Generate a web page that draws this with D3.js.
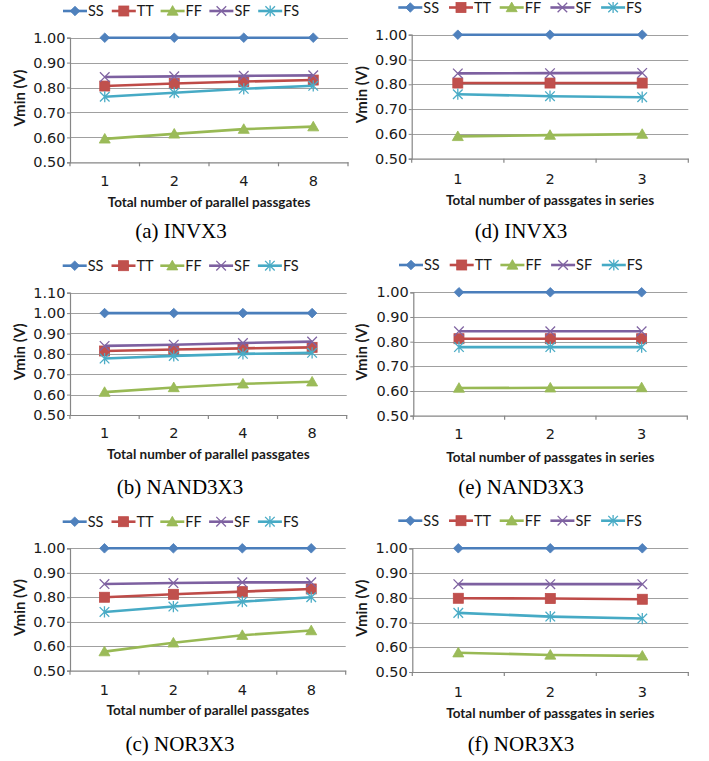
<!DOCTYPE html>
<html><head><meta charset="utf-8">
<script src="https://cdn.jsdelivr.net/npm/d3@7"></script>
<style>body{margin:0;background:#fff}svg{display:block}</style>
</head><body><svg id="c" width="709" height="761"></svg>
<script>
// ---------- data ----------
const seriesNames = ["SS","TT","FF","SF","FS"];
const parallelCats = ["1","2","4","8"];
const seriesCats = ["1","2","3"];
const yTicksStd = [0.50,0.60,0.70,0.80,0.90,1.00];
const yTicksNand = [0.50,0.60,0.70,0.80,0.90,1.00,1.10];
const xTitleParallel = "Total number of parallel passgates";
const xTitleSeries = "Total number of passgates in series";
const yTitle = "Vmin (V)";
const captions = ["(a) INVX3","(d) INVX3","(b) NAND3X3","(e) NAND3X3","(c) NOR3X3","(f) NOR3X3"];

// rows follow seriesNames order: SS, TT, FF, SF, FS
const invParallel = [
  [1.00,1.00,1.00,1.00],
  [0.806,0.816,0.824,0.830],
  [0.594,0.614,0.633,0.643],
  [0.842,0.845,0.847,0.849],
  [0.763,0.779,0.795,0.807]
];
const invSeries = [
  [1.00,1.00,1.00],
  [0.805,0.805,0.805],
  [0.590,0.595,0.599],
  [0.844,0.845,0.846],
  [0.760,0.752,0.748]
];
const nandParallel = [
  [1.00,1.00,1.00,1.00],
  [0.814,0.821,0.827,0.832],
  [0.612,0.635,0.653,0.663],
  [0.839,0.845,0.853,0.860],
  [0.777,0.790,0.800,0.805]
];
const nandSeries = [
  [1.00,1.00,1.00],
  [0.812,0.812,0.812],
  [0.612,0.613,0.614],
  [0.842,0.842,0.842],
  [0.778,0.778,0.778]
];
const norParallel = [
  [1.00,1.00,1.00,1.00],
  [0.800,0.812,0.823,0.834],
  [0.578,0.614,0.645,0.664],
  [0.854,0.858,0.861,0.861],
  [0.740,0.762,0.782,0.800]
];
const norSeries = [
  [1.00,1.00,1.00],
  [0.798,0.797,0.794],
  [0.578,0.569,0.565],
  [0.855,0.855,0.855],
  [0.739,0.724,0.716]
];

// ---------- styles ----------
const lineColors = ["#4A7EBB","#BE4B48","#98B954","#7D60A0","#46AAC5"];
const markColors = ["#4F81BD","#C0504D","#9BBB59","#8064A2","#4BACC6"];
const markers = ["diamond","square","triangle","x","star"];
const tickFont = "'DejaVu Sans', sans-serif";
const textFont = "Lato, 'Open Sans', sans-serif";

// ---------- layout ----------
const panels = [
  {cats:parallelCats, vals:invParallel, ticks:yTicksStd, xTitle:xTitleParallel, cap:captions[0],
   L:70, R:348, T:37.7, B:162.3, legY:11, legX:63, legStep:48.8, tickY:181, titleY:202, yTitleX:20, capX:181, capY:238},
  {cats:seriesCats, vals:invSeries, ticks:yTicksStd, xTitle:xTitleSeries, cap:captions[1],
   L:411.7, R:688.3, T:34.7, B:158.7, legY:7.5, legX:398.3, legStep:50.7, tickY:179, titleY:200, yTitleX:362, capX:521, capY:238},
  {cats:parallelCats, vals:nandParallel, ticks:yTicksNand, xTitle:xTitleParallel, cap:captions[2],
   L:70, R:346.7, T:292.7, B:415, legY:265.7, legX:62.7, legStep:48.8, tickY:433, titleY:454, yTitleX:20, capX:180, capY:494},
  {cats:seriesCats, vals:nandSeries, ticks:yTicksStd, xTitle:xTitleSeries, cap:captions[3],
   L:413.3, R:687.3, T:292.3, B:415.7, legY:265, legX:399, legStep:50.7, tickY:434, titleY:456.7, yTitleX:362, capX:521, capY:494},
  {cats:parallelCats, vals:norParallel, ticks:yTicksStd, xTitle:xTitleParallel, cap:captions[4],
   L:70, R:345.7, T:548.3, B:670.7, legY:521.7, legX:62.7, legStep:48.8, tickY:690, titleY:710, yTitleX:20, capX:180, capY:751},
  {cats:seriesCats, vals:norSeries, ticks:yTicksStd, xTitle:xTitleSeries, cap:captions[5],
   L:412.3, R:688.3, T:548.3, B:672, legY:520.7, legX:398.3, legStep:50.7, tickY:691.7, titleY:713.3, yTitleX:362, capX:521, capY:751}
];

const svg = d3.select("#c");

function drawMarker(g, type, i, x, y) {
  const c = markColors[i], lc = lineColors[i];
  if (type === "diamond") {
    const r = 4.8;
    g.append("path").attr("d", `M${x},${y-r}L${x+r},${y}L${x},${y+r}L${x-r},${y}Z`)
      .attr("fill", c).attr("stroke", lc).attr("stroke-width", 0.8);
  } else if (type === "square") {
    const s = 10;
    g.append("rect").attr("x", x-s/2).attr("y", y-s/2).attr("width", s).attr("height", s)
      .attr("fill", c).attr("stroke", lc).attr("stroke-width", 0.8);
  } else if (type === "triangle") {
    g.append("path").attr("d", `M${x},${y-5.4}L${x+5.5},${y+4.2}L${x-5.5},${y+4.2}Z`)
      .attr("fill", c).attr("stroke", lc).attr("stroke-width", 0.8);
  } else if (type === "x") {
    const r = 4.8;
    g.append("path").attr("d", `M${x-r},${y-r}L${x+r},${y+r}M${x-r},${y+r}L${x+r},${y-r}`)
      .attr("stroke", c).attr("stroke-width", 1.3).attr("fill", "none");
  } else if (type === "star") {
    const r = 4.8;
    g.append("path").attr("d", `M${x-r},${y-r}L${x+r},${y+r}M${x-r},${y+r}L${x+r},${y-r}M${x},${y-r-0.8}L${x},${y+r+0.8}`)
      .attr("stroke", c).attr("stroke-width", 1.3).attr("fill", "none");
  }
}

panels.forEach(p => {
  const g = svg.append("g");
  const yMax = p.ticks[p.ticks.length-1];
  const x = d3.scaleBand().domain(p.cats).range([p.L, p.R]).paddingInner(0).paddingOuter(0);
  const y = d3.scaleLinear().domain([0.5, yMax]).range([p.B, p.T]);

  // gridlines
  g.append("g").selectAll("line").data(p.ticks.slice(1)).join("line")
    .attr("x1", p.L).attr("x2", p.R)
    .attr("y1", d => Math.round(y(d))+0.5).attr("y2", d => Math.round(y(d))+0.5)
    .attr("stroke", "#a0a0a0").attr("stroke-width", 1.2);

  // y axis
  const ya = g.append("g").attr("transform", `translate(${p.L},0)`)
    .call(d3.axisLeft(y).tickValues(p.ticks).tickFormat(d3.format(".2f")).tickSize(3).tickPadding(1.5));
  ya.select(".domain").attr("stroke", "#868686").attr("stroke-width", 1.2);
  ya.selectAll(".tick line").attr("stroke", "#868686");
  ya.selectAll("text").attr("font-family", tickFont).attr("font-size", 14.5).attr("fill", "#1a1a1a");

  // x axis
  const xa = g.append("g").attr("transform", `translate(0,${p.B})`)
    .call(d3.axisBottom(x).tickSize(0).tickPadding(0));
  xa.select(".domain").attr("stroke", "#868686").attr("stroke-width", 1.2);
  xa.selectAll("text").attr("font-family", tickFont).attr("font-size", 14.5).attr("fill", "#1a1a1a")
    .attr("y", p.tickY - p.B).attr("dy", "0.36em");
  const bounds = p.cats.map(c => x(c)).concat([p.R]);
  g.append("g").selectAll("line").data(bounds).join("line")
    .attr("x1", d => d).attr("x2", d => d).attr("y1", p.B).attr("y2", p.B + 4)
    .attr("stroke", "#868686").attr("stroke-width", 1.2);

  // axis titles
  g.append("text").attr("x", (p.L+p.R)/2).attr("y", p.titleY).attr("dy", "0.36em")
    .attr("text-anchor", "middle").attr("font-family", textFont).attr("font-weight", "bold")
    .attr("font-size", 13.5).attr("fill", "#1a1a1a").text(p.xTitle);
  g.append("text").attr("transform", `translate(${p.yTitleX},${(p.T+p.B)/2 - 2}) rotate(-90)`)
    .attr("dy", "0.36em").attr("text-anchor", "middle").attr("font-family", textFont)
    .attr("font-weight", "bold").attr("font-size", 15).attr("fill", "#1a1a1a").text(yTitle);

  // series
  seriesNames.forEach((name, i) => {
    const vals = p.vals[i];
    const pts = p.cats.map((c, j) => [x(c) + x.bandwidth()/2, y(vals[j])]);
    g.append("path").attr("d", d3.line()(pts)).attr("fill", "none")
      .attr("stroke", lineColors[i]).attr("stroke-width", 2.6).attr("stroke-linejoin", "round");
    pts.forEach(pt => drawMarker(g, markers[i], i, pt[0], pt[1]));
  });

  // legend
  seriesNames.forEach((name, i) => {
    const x0 = p.legX + i * p.legStep;
    g.append("line").attr("x1", x0).attr("x2", x0 + 24).attr("y1", p.legY).attr("y2", p.legY)
      .attr("stroke", lineColors[i]).attr("stroke-width", 2.6);
    drawMarker(g, markers[i], i, x0 + 12, p.legY);
    g.append("text").attr("x", x0 + 25).attr("y", p.legY).attr("dy", "0.36em")
      .attr("font-family", textFont).attr("font-size", 14.5).attr("fill", "#1a1a1a").text(name);
  });

  // caption
  svg.append("text").attr("x", p.capX).attr("y", p.capY).attr("text-anchor", "middle")
    .attr("font-family", "'Liberation Serif', 'Times New Roman', serif").attr("font-size", 21)
    .attr("fill", "#000").text(p.cap);
});
</script>
</body></html>
